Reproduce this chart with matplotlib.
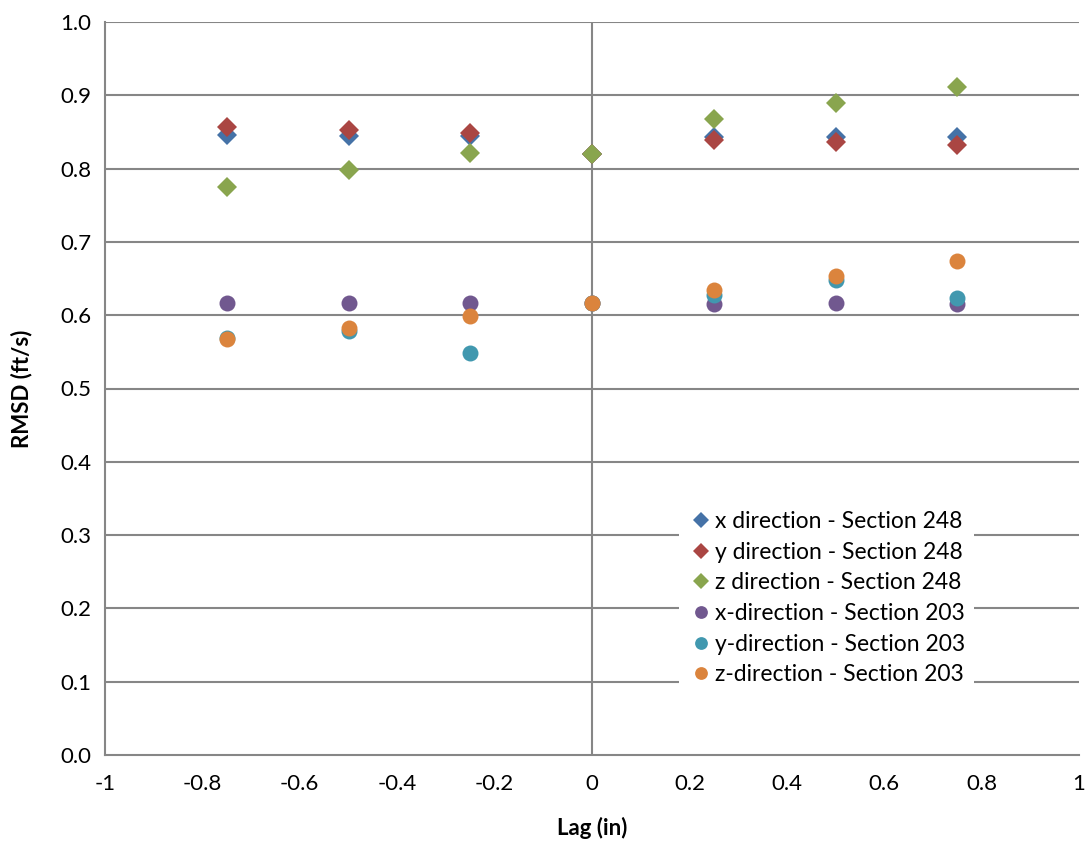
import matplotlib.pyplot as plt
import numpy as np

plt.rcParams['font.family'] = ['Lato', 'DejaVu Sans']

lag = [-0.75, -0.5, -0.25, 0.0, 0.25, 0.5, 0.75]

# Section 248 (diamonds)
x_248 = [0.846, 0.845, 0.844, 0.820, 0.843, 0.843, 0.843]
y_248 = [0.857, 0.852, 0.848, 0.820, 0.839, 0.836, 0.832]
z_248 = [0.775, 0.798, 0.821, 0.820, 0.867, 0.889, 0.912]

# Section 203 (circles)
x_203 = [0.617, 0.617, 0.617, 0.616, 0.615, 0.616, 0.615]
y_203 = [0.569, 0.579, 0.548, 0.616, 0.627, 0.648, 0.623]
z_203 = [0.568, 0.582, 0.599, 0.616, 0.634, 0.654, 0.674]

labels = ['x direction - Section 248', 'y direction - Section 248', 'z direction - Section 248',
          'x-direction - Section 203', 'y-direction - Section 203', 'z-direction - Section 203']
colors = ['#4572A7', '#AA4643', '#89A54E', '#71588F', '#4198AF', '#DB843D']
series = [x_248, y_248, z_248, x_203, y_203, z_203]
markers = ['D', 'D', 'D', 'o', 'o', 'o']
sizes = [10.2, 10.2, 10.2, 11.5, 11.5, 11.5]


def main():
    fig = plt.figure(figsize=(10.86, 8.44), dpi=100)
    ax = fig.add_axes([105/1086, 1-755/844, (1079-105)/1086, (755-22)/844])

    grid_col = '#868686'
    for yv in np.arange(0.1, 1.01, 0.1):
        ax.axhline(yv, color=grid_col, lw=1.5, zorder=0)
    ax.axvline(0, color=grid_col, lw=1.5, zorder=0)

    for vals, lab, col, mk, ms in zip(series, labels, colors, markers, sizes):
        ax.plot(lag, vals, linestyle='none', marker=mk, markersize=ms,
                markerfacecolor=col, markeredgewidth=0, label=lab, zorder=3)

    ax.set_xlim(-1, 1)
    ax.set_ylim(0, 1)
    ax.set_xticks(np.arange(-1, 1.01, 0.2))
    ax.set_xticklabels(['-1', '-0.8', '-0.6', '-0.4', '-0.2', '0', '0.2', '0.4', '0.6', '0.8', '1'])
    ax.set_yticks(np.arange(0, 1.01, 0.1))
    ax.set_yticklabels(['%.1f' % v for v in np.arange(0, 1.01, 0.1)])
    ax.tick_params(length=0, labelsize=16, pad=10)
    ax.tick_params(axis='x', pad=14)

    for s in ['top', 'right']:
        ax.spines[s].set_visible(False)
    for s in ['left', 'bottom']:
        ax.spines[s].set_color(grid_col)
        ax.spines[s].set_linewidth(1.5)

    ax.set_xlabel('Lag (in)', fontsize=16, fontweight='bold', labelpad=16)
    ax.set_ylabel('RMSD (ft/s)', fontsize=16, fontweight='bold', labelpad=20)

    leg = ax.legend(loc='lower left', bbox_to_anchor=(0.578, 0.067), fontsize=16.5,
                    frameon=True, framealpha=1, edgecolor='white', fancybox=False,
                    handletextpad=0.05, handlelength=1.1, labelspacing=0.42,
                    markerscale=0.8, borderpad=0.4)
    leg.get_frame().set_linewidth(0)

    plt.savefig('out.png', dpi=100)
    plt.close()


if __name__ == '__main__':
    main()
